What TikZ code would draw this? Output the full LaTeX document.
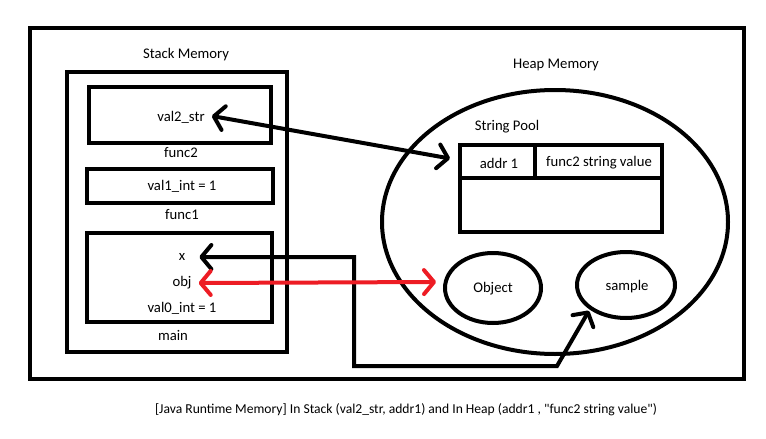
\documentclass[tikz,border=0pt]{standalone}
\usepackage{fontspec}
\setmainfont{Carlito}[Ligatures=TeXOff]
\usetikzlibrary{arrows.meta,shapes.geometric,calc}
\definecolor{paintred}{RGB}{237,28,36}
\begin{document}
\begin{tikzpicture}[x=1pt,y=-1pt,
  box/.style={draw,line width=4pt,rectangle,inner sep=0pt},
  oval/.style={draw,line width=4pt,ellipse,inner sep=0pt},
  lbl/.style={font=\fontsize{14.7}{17}\selectfont,inner sep=0pt},
  >={Straight Barb[length=10pt,width=24pt,line cap=round,line join=round]},
  conn/.style={line width=4pt,<->,line join=miter},
]
\useasboundingbox (0,0) rectangle (766,439);
% outer frame
\node[box,minimum width=714pt,minimum height=351pt] (frame) at (387,203.5) {};
% stack
\node[box,minimum width=220pt,minimum height=280pt] (stack) at (177,212) {};
\node[lbl] (stacklbl) at (186,55) {Stack Memory};
\node[box,minimum width=182pt,minimum height=56pt] (f2box) at (180,115) {};
\node[lbl] (val2) at (181,117) {val2\_str};
\node[lbl] (f2lbl) at (181,153) {func2};
\node[box,minimum width=186pt,minimum height=34pt] (f1box) at (180,186) {};
\node[lbl] (val1) at (182,186) {val1\_int = 1};
\node[lbl] (f1lbl) at (182,215) {func1};
\node[box,minimum width=185pt,minimum height=89pt] (mainbox) at (179.5,277.5) {};
\node[lbl] (xv) at (182,257) {x};
\node[lbl] (objv) at (182,283) {obj};
\node[lbl] (val0) at (182,308) {val0\_int = 1};
\node[lbl] (mainlbl) at (173,335) {main};
% heap
\node[lbl] (heaplbl) at (556,65) {Heap Memory};
\node[oval,minimum width=346pt,minimum height=264pt] (heap) at (555,222) {};
\node[lbl] (poollbl) at (507,127) {String Pool};
\node[box,minimum width=202pt,minimum height=87pt] (pool) at (561,188.5) {};
\node[box,minimum width=75pt,minimum height=33pt] (addr) at (497.5,161.5) {};
\node[lbl] at (499,163) {addr 1};
\node[box,minimum width=127pt,minimum height=33pt] (valcell) at (598.5,161.5) {};
\node[lbl] at (599,163) {func2 string value};
\node[oval,minimum width=96pt,minimum height=70pt] (object) at (493,288) {};
\node[lbl] at (493,289) {Object};
\node[oval,minimum width=98pt,minimum height=66pt] (sample) at (626,285) {};
\node[lbl] at (627,287) {sample};
% caption
\node[lbl,font=\fontsize{13.6}{16}\selectfont] (caption) at (406,410) {[Java Runtime Memory] In Stack (val2\_str, addr1) and In Heap (addr1 , "func2 string value")};
% connectors
\coordinate (c1) at (354,257);
\coordinate (c2) at (354,366);
\coordinate (c3) at (557,366);
\draw[conn] ($(val2.east)+(7,-1)$) -- ($(addr.west)+(-8,-3)$);
\draw[conn] ($(xv.east)+(14,0)$) -- (c1) -- (c2) -- (c3) -- ($(sample.south west)+(-1,1)$);
\draw[conn,paintred] ($(objv.east)+(7,0)$) -- ($(object.west)+(-7,-6)$);
\end{tikzpicture}
\end{document}
